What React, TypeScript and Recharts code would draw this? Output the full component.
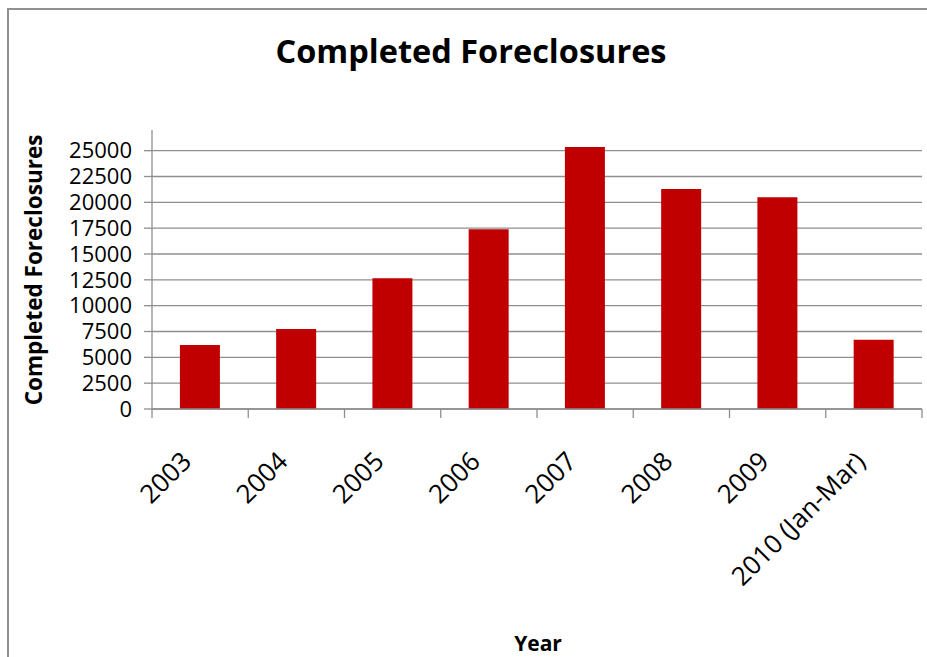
import { BarChart, Bar, XAxis, YAxis, CartesianGrid } from 'recharts';

const years = ['2003', '2004', '2005', '2006', '2007', '2008', '2009', '2010 (Jan-Mar)'];
const foreclosures = [6200, 7750, 12650, 17400, 25350, 21300, 20500, 6700];
const yTicks = [0, 2500, 5000, 7500, 10000, 12500, 15000, 17500, 20000, 22500, 25000];

const chartTitle = 'Completed Foreclosures';
const yTitle = 'Completed Foreclosures';
const xTitle = 'Year';

const data = years.map((year, i) => ({ year, value: foreclosures[i] }));

const FONT = '"Open Sans", sans-serif';
const GRID = '#8f8f8f';

// category tick: label rotated 45deg, plus Excel-style tick marks on the band edges
function YearTick({ x, y, payload, index }: any) {
  const half = payload.offset || 0;
  const last = index === years.length - 1;
  return (
    <g transform={`translate(${x},${y})`}>
      <line x1={-half} y1={0} x2={-half} y2={9} stroke={GRID} strokeWidth={1.3} />
      {last && <line x1={half} y1={0} x2={half} y2={9} stroke={GRID} strokeWidth={1.3} />}
      <text
        x={-7}
        y={54}
        textAnchor="end"
        transform="rotate(-45, -7, 54)"
        fontFamily={FONT}
        fontSize={26}
        fill="#000"
      >
        {payload.value}
      </text>
    </g>
  );
}

export default function App() {
  return (
    <div style={{ position: 'absolute', left: 0, top: 0, width: 927, height: 657, overflow: 'hidden', background: '#fff' }}>
      <div
        style={{
          position: 'absolute',
          left: 7,
          top: 8,
          width: 918,
          height: 647,
          borderLeft: '2px solid #909090',
          borderTop: '2px solid #909090',
        }}
      />
      <BarChart
        width={927}
        height={657}
        data={data}
        margin={{ top: 130, right: 5, left: 0, bottom: 0 }}
        barCategoryGap="29%"
        style={{ position: 'absolute', left: 0, top: 0 }}
      >
        <CartesianGrid
          vertical={false}
          stroke={GRID}
          strokeWidth={1.3}
          horizontalValues={yTicks}
          fill="none"
        />
        <XAxis
          dataKey="year"
          height={248}
          interval={0}
          tick={<YearTick />}
          tickLine={false}
          tickSize={0}
          tickMargin={0}
          axisLine={{ stroke: GRID, strokeWidth: 1.3 }}
        />
        <YAxis
          width={152}
          domain={[0, 27000]}
          ticks={yTicks}
          interval={0}
          tickSize={8}
          tickMargin={12}
          tickLine={{ stroke: GRID, strokeWidth: 1.3 }}
          axisLine={{ stroke: GRID, strokeWidth: 1.3 }}
          tick={{ fontFamily: FONT, fontSize: 22, fill: '#000' }}
        />
        <Bar dataKey="value" fill="#C00000" isAnimationActive={false} />
      </BarChart>
      <svg width={927} height={657} style={{ position: 'absolute', left: 0, top: 0, pointerEvents: 'none' }}>
        <text x={471} y={63} textAnchor="middle" fontFamily={FONT} fontWeight="bold" fontSize={32.5} fill="#000">
          {chartTitle}
        </text>
        <text
          x={42}
          y={270}
          textAnchor="middle"
          transform="rotate(-90, 42, 270)"
          fontFamily={FONT}
          fontWeight="bold"
          fontSize={22.5}
          fill="#000"
        >
          {yTitle}
        </text>
        <text x={538} y={651} textAnchor="middle" fontFamily={FONT} fontWeight="bold" fontSize={21} fill="#000">
          {xTitle}
        </text>
      </svg>
    </div>
  );
}
